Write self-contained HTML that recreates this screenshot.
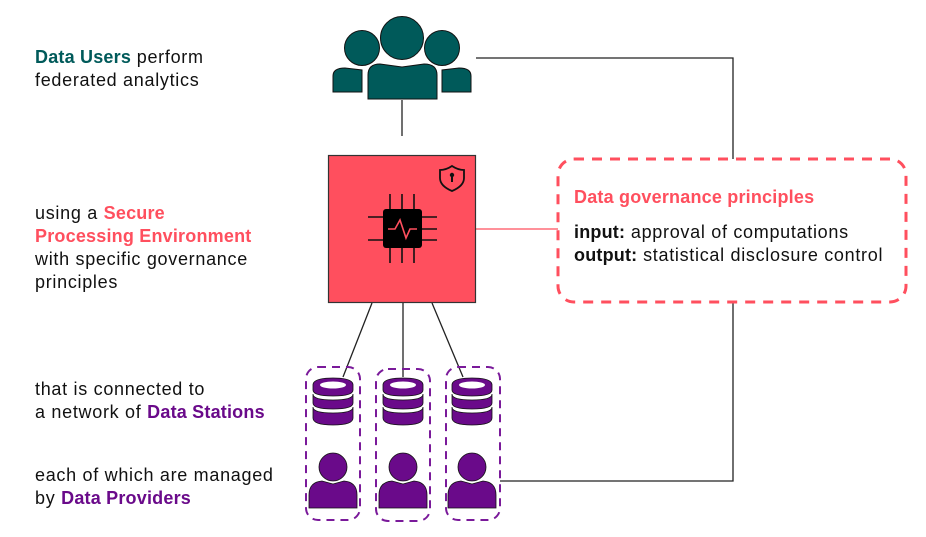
<!DOCTYPE html>
<html><head><style>
html,body{margin:0;padding:0;background:#fff;}
svg{display:block;font-family:"Liberation Sans",sans-serif;}
.t{font-size:18px;fill:#111;letter-spacing:0.7px;}
.b{font-weight:bold;letter-spacing:0.2px;}
</style></head><body>
<svg width="926" height="537" viewBox="0 0 926 537" xmlns="http://www.w3.org/2000/svg">
<g stroke="#222" stroke-width="1.3" fill="none">
<path d="M402 100 V136"/>
<path d="M476 58 H733 V159"/>
<path d="M733 302 V481 H500"/>
<path d="M372 303 L343 377"/>
<path d="M403 303 V377"/>
<path d="M432 303 L463 377"/>
</g>
<path d="M476 229 H558" stroke="#ff4f5e" stroke-width="1.3"/>
<g fill="#005a5a" stroke="#111" stroke-width="1">
<circle cx="402" cy="38" r="21.5"/>
<circle cx="362" cy="48" r="17.5"/>
<circle cx="442" cy="48" r="17.5"/>
<path d="M333 92 V76 Q333 68 345 68 L362 70 V92 Z"/>
<path d="M471 92 V76 Q471 68 459 68 L442 70 V92 Z"/>
<path d="M368 99 V75 Q368 64 380 64 L402 67 L424 64 Q437 64 437 75 V99 Z"/>
</g>
<rect x="328.5" y="155.5" width="147" height="147" fill="#ff4f5e" stroke="#333" stroke-width="1.2"/>
<path d="M452 166 Q446 170 440 170 V178 Q440 186 452 191 Q464 186 464 178 V170 Q458 170 452 166 Z" fill="none" stroke="#111" stroke-width="1.8"/>
<circle cx="452" cy="175" r="2.2" fill="#111"/><rect x="451" y="176" width="2" height="6" fill="#111"/>
<g stroke="#111" stroke-width="1.6">
<path d="M390 194 V209 M402 194 V209 M414 194 V209 M390 248 V263 M402 248 V263 M414 248 V263 M368 217 H383 M368 240 H383 M421 217 H437 M421 229 H437 M421 240 H437"/>
</g>
<rect x="383" y="209" width="39" height="39" rx="3" fill="#000"/>
<path d="M388 229 H395 L400 220 L406 238 L410 229 H417" stroke="#ff4f5e" stroke-width="1.6" fill="none"/>
<rect x="558" y="159" width="348" height="143" rx="16" fill="none" stroke="#ff4f5e" stroke-width="3" stroke-dasharray="10 8"/>
<text x="574" y="203" class="t b" style="fill:#ff4f5e">Data governance principles</text>
<text x="574" y="238" class="t"><tspan class="b">input:</tspan> approval of computations</text>
<text x="574" y="261" class="t"><tspan class="b">output:</tspan> statistical disclosure control</text>
<g fill="none" stroke="#7a1a9a" stroke-width="2" stroke-dasharray="8 6">
<rect x="306" y="367" width="54" height="153" rx="12"/>
<rect x="376" y="369" width="54" height="152" rx="12"/>
<rect x="446" y="367" width="54" height="153" rx="12"/>
</g>
<g id="st">
<g fill="#6a0a8a" stroke="#111" stroke-width="0.8">
<path d="M313 407 V418 Q313 425 333 425 Q353 425 353 418 V407 Q353 413 333 413 Q313 413 313 407 Z"/>
<path d="M313 394 V403 Q313 409 333 409 Q353 409 353 403 V394 Q353 400 333 400 Q313 400 313 394 Z"/>
<path d="M313 385 V390 Q313 396 333 396 Q353 396 353 390 V385 Q353 378 333 378 Q313 378 313 385 Z"/>
</g>
<ellipse cx="333" cy="385" rx="13" ry="3.5" fill="#fff"/>
<circle cx="333" cy="467" r="14" fill="#6a0a8a" stroke="#111" stroke-width="0.8"/>
<path d="M309 508 V495 Q309 482 322 481 L333 484 L344 481 Q357 482 357 495 V508 Z" fill="#6a0a8a" stroke="#111" stroke-width="0.8"/>
</g>
<use href="#st" x="70"/>
<use href="#st" x="139"/>
<text x="35" y="63" class="t"><tspan class="b" style="fill:#005a5a">Data Users</tspan> perform</text>
<text x="35" y="86" class="t">federated analytics</text>
<text x="35" y="219" class="t">using a <tspan class="b" style="fill:#ff4f5e">Secure</tspan></text>
<text x="35" y="242" class="t b" style="fill:#ff4f5e">Processing Environment</text>
<text x="35" y="265" class="t">with specific governance</text>
<text x="35" y="288" class="t">principles</text>
<text x="35" y="395" class="t">that is connected to</text>
<text x="35" y="418" class="t">a network of <tspan class="b" style="fill:#6a0a8a">Data Stations</tspan></text>
<text x="35" y="481" class="t">each of which are managed</text>
<text x="35" y="504" class="t">by <tspan class="b" style="fill:#6a0a8a">Data Providers</tspan></text>
</svg>
</body></html>
